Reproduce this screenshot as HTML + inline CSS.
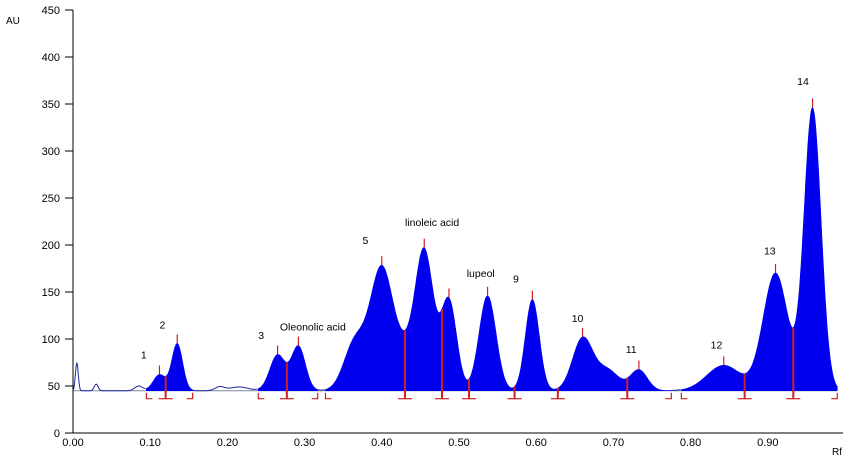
<!DOCTYPE html>
<html><head><meta charset="utf-8"><style>
html,body{margin:0;padding:0;background:#fff;}
svg{display:block;font-family:"Liberation Sans",sans-serif;}
</style></head><body>
<svg id="chart" width="852" height="461" viewBox="0 0 852 461"></svg>
<script>
// ---- data ----
const peakRf     = [0.005,0.03,0.085,0.19,0.215,0.112,0.135,0.265,0.292,0.365,0.400,0.430,0.455,0.487,0.537,0.595,0.660,0.692,0.733,0.843,0.910,0.958];
const peakHeight = [75,52,50,49,49,62,95,83,92,95,175,75,193,140,146,142,100,67,67,72,170,345];
const peakWidth  = [0.0018,0.0025,0.005,0.006,0.012,0.008,0.007,0.010,0.009,0.014,0.015,0.012,0.012,0.010,0.011,0.009,0.013,0.015,0.011,0.022,0.016,0.011];
const fillStart  = [0.095,0.240,0.327,0.788];
const fillEnd    = [0.155,0.317,0.775,0.990];
const splitRf    = [0.120,0.277,0.430,0.478,0.513,0.572,0.628,0.718,0.870,0.933];
const apexRf     = [0.112,0.135,0.265,0.292,0.400,0.455,0.487,0.537,0.595,0.660,0.733,0.843,0.910,0.958];
const labelText  = ["1","2","3","Oleonolic acid","5","linoleic acid","lupeol","9","10","11","12","13","14"];
const labelRf    = [0.088,0.112,0.240,0.268,0.375,0.430,0.510,0.570,0.646,0.716,0.826,0.895,0.938];
const labelAU    = [79,111,100,109,201,220,166,160,118,85,90,190,370];
const yTicks     = [0,50,100,150,200,250,300,350,400,450];
const xTicks     = [0,0.1,0.2,0.3,0.4,0.5,0.6,0.7,0.8,0.9];
const baseline   = 45;
// ---- scales ----
const X0=73, X1=843, Y0=433, Y1=10;
const x = v => X0 + v*772;
const y = v => Y0 - (v/450)*(Y0-Y1);
const svg=document.getElementById('chart');
const NS='http://www.w3.org/2000/svg';
function mk(tag,attrs,parent){const e=document.createElementNS(NS,tag);for(const k in attrs)e.setAttribute(k,attrs[k]);(parent||svg).appendChild(e);return e;}
function sig(r){let s=baseline;for(let i=0;i<peakRf.length;i++){const d=(r-peakRf[i])/peakWidth[i];s+=(peakHeight[i]-baseline)*Math.exp(-0.5*d*d);}return s;}
let bl=mk('line',{x1:x(0),x2:x(0.99),y1:y(baseline),y2:y(baseline),stroke:'#7a8aa0','stroke-width':1});

for(let k=0;k<fillStart.length;k++){
  let d='M'+x(fillStart[k])+','+y(baseline);
  for(let r=fillStart[k];r<=fillEnd[k]+1e-9;r+=0.001)d+=' L'+x(r).toFixed(1)+','+y(sig(r)).toFixed(1);
  d+=' L'+x(fillEnd[k])+','+y(baseline)+'Z';
  const p=mk('path',{d:d,fill:'#0000ee',stroke:'#0000ee','stroke-width':0.6});
  
}
let td='';let on=false;
for(let r=0;r<=0.99;r+=0.001){
  const inF=fillStart.some((s,i)=>r>s&&r<fillEnd[i]);
  if(inF){on=false;continue;}
  td+=(on?' L':' M')+x(r).toFixed(1)+','+y(sig(r)).toFixed(1);on=true;
}
const tr=mk('path',{d:td,fill:'none',stroke:'#1a2a9a','stroke-width':1});

const by=y(baseline)+8;
function bracket(r,dir,name){const g=mk('path',{d:`M${x(r)},${by-6} L${x(r)},${by} L${x(r)+dir*6},${by}`,fill:'none',stroke:'#d02020','stroke-width':1.2});}
fillStart.forEach((r,i)=>bracket(r,1,'start-bracket-'+(i+1)));
fillEnd.forEach((r,i)=>bracket(r,-1,'end-bracket-'+(i+1)));
splitRf.forEach((r,i)=>{
  const l=mk('line',{x1:x(r),x2:x(r),y1:by,y2:y(sig(r)),stroke:'#d02020','stroke-width':2});
  
  const t=mk('line',{x1:x(r)-7,x2:x(r)+7,y1:by,y2:by,stroke:'#d02020','stroke-width':1.2});
  
});
apexRf.forEach((r,i)=>{
  const v=y(sig(r));
  const l=mk('line',{x1:x(r),x2:x(r),y1:v-9,y2:v,stroke:'#d02020','stroke-width':1.2});
  
});
const ya=mk('line',{x1:X0,x2:X0,y1:Y1,y2:Y0,stroke:'#000','stroke-width':1});

const xa=mk('line',{x1:X0,x2:X1,y1:Y0,y2:Y0,stroke:'#000','stroke-width':1});

yTicks.forEach(v=>{
  const t=mk('line',{x1:X0-8,x2:X0,y1:y(v),y2:y(v),stroke:'#000'});
  
  const tx=mk('text',{x:X0-13,y:y(v)+4,'text-anchor':'end','font-size':11});tx.textContent=v;
  
});
xTicks.forEach(v=>{
  const tx=mk('text',{x:x(v),y:Y0+13,'text-anchor':'middle','font-size':11});tx.textContent=v.toFixed(2);
  
});
const au=mk('text',{x:6,y:24,'font-size':10});au.textContent='AU';

const rf=mk('text',{x:832,y:455,'font-size':10});rf.textContent='Rf';

labelText.forEach((s,i)=>{
  const t=mk('text',{x:x(labelRf[i]),y:y(labelAU[i]),'font-size':10.5});t.textContent=s;
  
});
</script>
</body></html>
